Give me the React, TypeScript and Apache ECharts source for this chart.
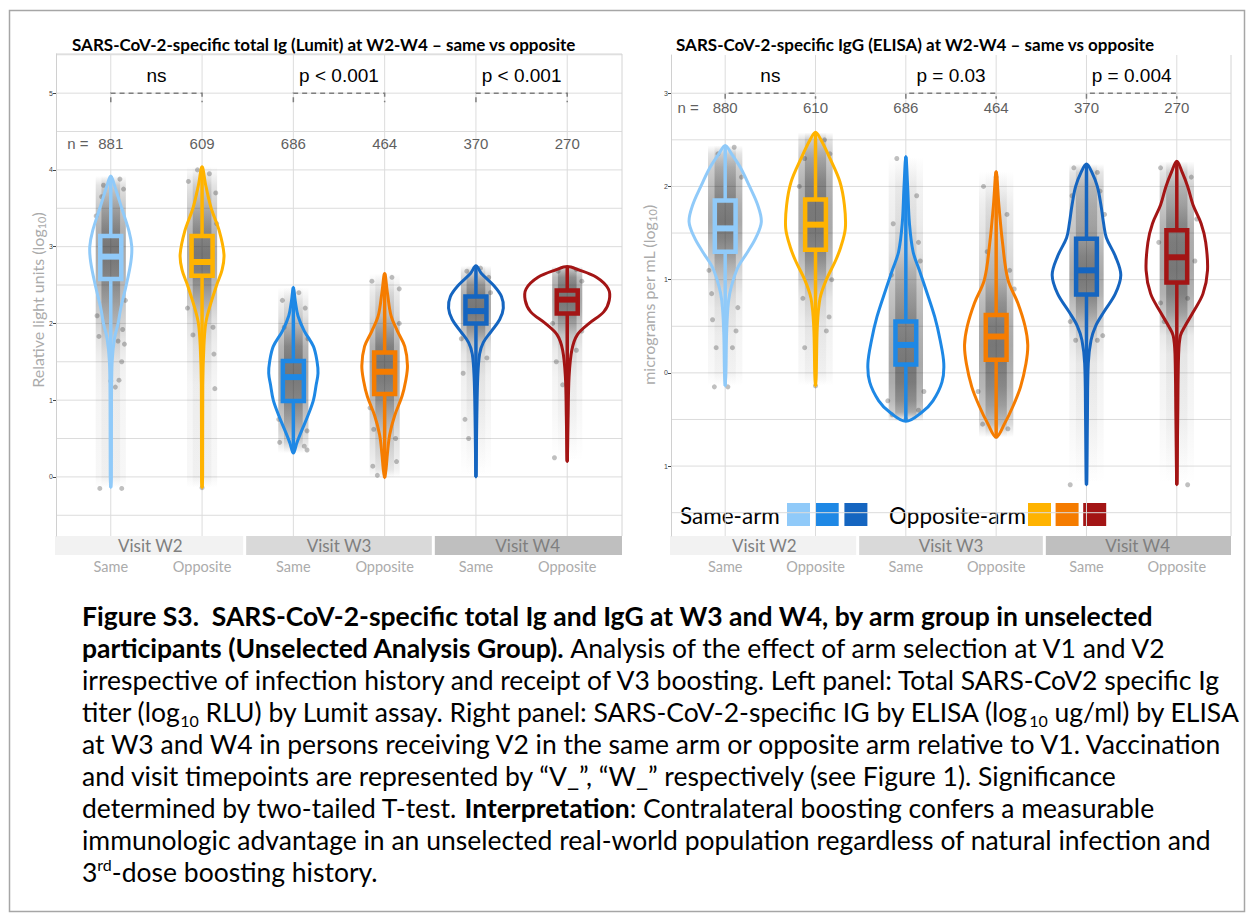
import React, { useEffect, useRef } from "react";
import * as echarts from "echarts";

// ---------- data ----------
const positions = [1, 2, 3, 4, 5, 6];
const armLabels = ["Same", "Opposite", "Same", "Opposite", "Same", "Opposite"];
const visitLabels = ["Visit W2", "Visit W3", "Visit W4"];
const groupColors = ["#90CAF9", "#FFB300", "#1E88E5", "#F57C00", "#1565C0", "#A31515"];
const sameColors = ["#90CAF9", "#1E88E5", "#1565C0"];
const oppColors = ["#FFB300", "#F57C00", "#A31515"];

// violin profiles: [log10 value, half width in category units], top -> bottom
const lumitViolins = [
  [[3.92, 0], [3.8, 0.04], [3.5, 0.12], [3.2, 0.2], [3.0, 0.23], [2.8, 0.22], [2.5, 0.17], [2.2, 0.11], [2.0, 0.08], [1.8, 0.04], [1.5, 0.015], [1.0, 0.008], [0, 0.006], [-0.14, 0]],
  [[4.04, 0], [3.8, 0.04], [3.5, 0.1], [3.2, 0.19], [2.9, 0.24], [2.7, 0.22], [2.5, 0.16], [2.2, 0.08], [2.0, 0.04], [1.7, 0.02], [1.2, 0.008], [0, 0.006], [-0.14, 0]],
  [[2.47, 0], [2.3, 0.02], [2.1, 0.05], [1.9, 0.12], [1.7, 0.22], [1.5, 0.26], [1.35, 0.27], [1.2, 0.25], [1.0, 0.22], [0.8, 0.16], [0.6, 0.09], [0.45, 0.04], [0.31, 0]],
  [[2.65, 0], [2.4, 0.03], [2.1, 0.07], [1.9, 0.14], [1.7, 0.22], [1.45, 0.25], [1.25, 0.23], [1.05, 0.19], [0.8, 0.11], [0.55, 0.055], [0.3, 0.03], [0.1, 0.015], [-0.01, 0]],
  [[2.75, 0], [2.65, 0.06], [2.5, 0.19], [2.35, 0.28], [2.2, 0.3], [2.05, 0.26], [1.9, 0.17], [1.75, 0.08], [1.6, 0.04], [1.3, 0.02], [0.8, 0.01], [0, 0]],
  [[2.74, 0], [2.7, 0.12], [2.6, 0.32], [2.45, 0.45], [2.3, 0.46], [2.15, 0.4], [2.0, 0.24], [1.85, 0.11], [1.65, 0.05], [1.3, 0.02], [0.8, 0.01], [0.2, 0]],
];
const elisaViolins = [
  [[2.44, 0], [2.35, 0.07], [2.2, 0.17], [2.0, 0.27], [1.8, 0.36], [1.62, 0.4], [1.45, 0.34], [1.3, 0.25], [1.15, 0.15], [1.0, 0.09], [0.85, 0.05], [0.7, 0.03], [0.4, 0.015], [0, 0.008], [-0.14, 0]],
  [[2.58, 0], [2.5, 0.06], [2.3, 0.16], [2.05, 0.27], [1.8, 0.32], [1.55, 0.33], [1.35, 0.28], [1.2, 0.22], [1.0, 0.12], [0.8, 0.05], [0.5, 0.02], [0, 0.008], [-0.14, 0]],
  [[2.32, 0], [2.0, 0.02], [1.6, 0.04], [1.3, 0.08], [1.1, 0.15], [0.9, 0.22], [0.6, 0.32], [0.35, 0.38], [0.1, 0.42], [-0.1, 0.4], [-0.3, 0.3], [-0.42, 0.18], [-0.52, 0]],
  [[2.16, 0], [1.8, 0.03], [1.4, 0.07], [1.0, 0.13], [0.75, 0.24], [0.5, 0.32], [0.3, 0.35], [0.1, 0.33], [-0.15, 0.27], [-0.35, 0.19], [-0.55, 0.09], [-0.69, 0]],
  [[2.24, 0], [2.15, 0.06], [2.0, 0.12], [1.8, 0.16], [1.6, 0.19], [1.45, 0.22], [1.25, 0.32], [1.05, 0.38], [0.85, 0.32], [0.65, 0.19], [0.5, 0.1], [0.35, 0.05], [0.1, 0.02], [-0.5, 0.01], [-1.2, 0]],
  [[2.27, 0], [2.15, 0.06], [2.0, 0.12], [1.8, 0.18], [1.6, 0.27], [1.4, 0.32], [1.1, 0.34], [0.85, 0.29], [0.65, 0.18], [0.5, 0.09], [0.4, 0.04], [0.2, 0.02], [-0.5, 0.01], [-1.2, 0]],
];

// boxes: [q1, median, q3]
const lumitBoxes = [[2.58, 2.87, 3.14], [2.62, 2.8, 3.14], [0.99, 1.3, 1.51], [1.08, 1.37, 1.62], [2.0, 2.16, 2.35], [2.13, 2.31, 2.43]];
const elisaBoxes = [[1.3, 1.55, 1.85], [1.32, 1.59, 1.86], [0.09, 0.3, 0.55], [0.14, 0.39, 0.62], [0.84, 1.1, 1.44], [0.97, 1.24, 1.53]];

// sparse jittered points: [x offset, value]
const lumitPoints = [
  [[-0.12, -0.15], [0.12, -0.15], [0.05, 1.17], [0.09, 1.26], [0.0, 1.25], [0.12, 1.5], [-0.13, 1.83], [0.13, 1.92], [0.15, 1.73], [0.08, 1.77], [-0.08, 3.8], [0.1, 3.88], [0.14, 3.75], [-0.1, 3.65], [-0.15, 2.1], [0.16, 2.3], [-0.16, 3.4]],
  [[0.0, -0.14], [0.13, 1.6], [0.14, 1.15], [-0.1, 1.85], [0.12, 1.95], [-0.05, 4.0], [0.08, 3.95], [-0.15, 3.85], [0.15, 3.7], [-0.16, 2.2], [0.16, 3.3]],
  [[-0.15, 0.45], [0.12, 0.4], [0.15, 0.35], [-0.1, 1.95], [0.13, 2.2], [-0.12, 2.3], [0.06, 2.4], [0.15, 0.6], [-0.16, 0.75], [0.16, 1.8]],
  [[-0.13, 0.14], [0.13, 0.2], [-0.08, 0.02], [0.12, 0.5], [-0.12, 0.62], [-0.14, 2.55], [0.16, 2.45], [0.08, 2.6], [-0.16, 0.9], [0.16, 2.0]],
  [[-0.12, 0.75], [-0.08, 0.5], [-0.14, 1.35], [0.12, 1.55], [0.05, 2.72], [-0.1, 2.68], [0.14, 2.6], [-0.16, 1.8], [0.16, 2.4]],
  [[-0.12, 1.5], [0.1, 1.65], [0.16, 1.9], [-0.05, 1.2], [-0.14, 0.25], [0.1, 2.7], [-0.1, 2.68], [-0.16, 2.0], [0.16, 2.55]],
];
const elisaPoints = [
  [[-0.12, -0.15], [0.03, -0.15], [-0.1, 0.27], [0.08, 0.27], [0.12, 0.45], [-0.14, 0.57], [0.0, 0.45], [0.14, 0.7], [-0.15, 0.85], [0.1, 2.42], [-0.08, 2.35], [-0.18, 1.1], [0.18, 2.1]],
  [[0.0, -0.14], [-0.12, 0.27], [0.12, 0.45], [0.15, 0.6], [-0.14, 0.8], [0.1, 2.5], [0.16, 2.35], [-0.12, 2.3], [0.18, 1.0], [-0.18, 2.0]],
  [[-0.1, 2.3], [0.12, 1.9], [-0.14, 1.6], [0.14, 1.4], [0.16, 1.2], [-0.16, 1.05], [-0.15, -0.45], [0.14, -0.4], [0.0, -0.5], [-0.2, -0.3], [0.2, -0.2]],
  [[-0.14, 2.0], [0.12, 1.7], [-0.1, 1.3], [0.15, 1.1], [0.0, 2.1], [-0.15, -0.55], [0.13, -0.6], [0.0, -0.68], [-0.2, -0.2], [0.2, 0.9]],
  [[-0.14, 2.2], [0.12, 2.15], [-0.16, 1.9], [0.15, 1.95], [-0.18, 0.55], [0.18, 0.4], [-0.12, 0.35], [0.12, 0.35], [-0.18, -1.2], [0.2, 1.7]],
  [[-0.18, 2.2], [0.16, 2.1], [-0.2, 1.4], [0.22, 1.65], [-0.18, 0.75], [-0.14, 0.55], [0.12, 0.8], [0.12, -1.2], [0.2, 1.2]],
];

const lumitN = ["881", "609", "686", "464", "370", "270"];
const elisaN = ["880", "610", "686", "464", "370", "270"];
const lumitP = ["ns", "p < 0.001", "p < 0.001"];
const elisaP = ["ns", "p = 0.03", "p = 0.004"];

const lumitGridY = [-0.5, 0, 0.5, 1, 1.5, 2, 2.5, 3, 3.5, 4, 4.5, 5, 5.5];
const elisaGridY = [-1.5, -1, -0.5, 0, 0.5, 1, 1.5, 2, 2.5, 3];
const lumitTicks = [0, 1, 2, 3, 4, 5];
const lumitTickLabels = ["0", "1", "2", "3", "4", "5"];
const elisaTicks = [-1, 0, 1, 2, 3];
const elisaTickLabels = ["1", "0", "1", "2", "3"];

const titles = [
  "SARS-CoV-2-specific total Ig (Lumit) at W2-W4 \u2013 same vs opposite",
  "SARS-CoV-2-specific IgG (ELISA) at W2-W4 \u2013 same vs opposite",
];

const captionLines = [
  "{b|Figure S3.  SARS-CoV-2-specific total Ig and IgG at W3 and W4, by arm group in unselected}",
  "{b|participants (Unselected Analysis Group).}{r| Analysis of the effect of arm selection at V1 and V2}",
  "{r|irrespective of infection history and receipt of V3 boosting. Left panel: Total SARS-CoV2 specific Ig}",
  "{r|titer (log}{s|10}{r| RLU) by Lumit assay. Right panel: SARS-CoV-2-specific IG by ELISA (log}{s|10}{r| ug/ml) by ELISA}",
  "{r|at W3 and W4 in persons receiving V2 in the same arm or opposite arm relative to V1. Vaccination}",
  "{r|and visit timepoints are represented by \u201cV_\u201d, \u201cW_\u201d respectively (see Figure 1). Significance}",
  "{r|determined by two-tailed T-test. }{b|Interpretation}{r|: Contralateral boosting confers a measurable}",
  "{r|immunologic advantage in an unselected real-world population regardless of natural infection and}",
  "{r|3}{u|rd}{r|-dose boosting history.}",
];

// ---------- layout ----------
const PLOT_FONT = "'Liberation Sans', Arial, sans-serif";
const CAL_FONT = "Lato, 'Noto Sans', sans-serif";
const X_MIN = 0.4;
const X_MAX = 6.6;
const GRIDS = [
  { left: 56, top: 54, width: 566, height: 482 },
  { left: 671, top: 55, width: 560, height: 481 },
];

type Panel = {
  violins: number[][][];
  boxes: number[][];
  points: number[][][];
  n: string[];
  p: string[];
  gridY: number[];
  range: number[];
  nY: number;
  pY: number;
  bracketY: number;
  bracketDrop: number;
  nLabelX: number;
  jitter: number;
};

const panels: Panel[] = [
  { violins: lumitViolins, boxes: lumitBoxes, points: lumitPoints, n: lumitN, p: lumitP, gridY: lumitGridY, range: [-0.77, 5.51], nY: 4.35, pY: 5.23, bracketY: 5.0, bracketDrop: 0.12, nLabelX: 0.64, jitter: 0.165 },
  { violins: elisaViolins, boxes: elisaBoxes, points: elisaPoints, n: elisaN, p: elisaP, gridY: elisaGridY, range: [-1.75, 3.41], nY: 2.85, pY: 3.19, bracketY: 3.0, bracketDrop: 0.06, nLabelX: 0.59, jitter: 0.19 },
];

function line(a: number[], b: number[], style: any) {
  return { type: "line", shape: { x1: a[0], y1: a[1], x2: b[0], y2: b[1] }, style };
}

function textEl(x: number, y: number, text: string, style: any) {
  return {
    type: "text",
    x,
    y,
    style: { text, align: "center", verticalAlign: "middle", textAlign: "center", textVerticalAlign: "middle", ...style },
  };
}

function panelSeries(gi: number, d: Panel) {
  const base = { xAxisIndex: gi, yAxisIndex: gi, coordinateSystem: "cartesian2d", silent: true, animation: false };
  const [ymin, ymax] = d.range;
  const series: any[] = [];

  // grid lines
  series.push({
    ...base,
    type: "custom",
    z: 0,
    clip: false,
    data: [[1, 1]],
    renderItem: (_p: any, api: any) => {
      const children: any[] = [];
      d.gridY.forEach((v) => {
        children.push(line(api.coord([X_MIN, v]), api.coord([X_MAX, v]), { stroke: "#dcdcdc", lineWidth: 1 }));
      });
      positions.forEach((x) => {
        children.push(line(api.coord([x, ymin]), api.coord([x, ymax]), { stroke: "#dcdcdc", lineWidth: 1 }));
      });
      children.push(line(api.coord([X_MAX, ymin]), api.coord([X_MAX, ymax]), { stroke: "#d4d4d4", lineWidth: 1 }));
      return { type: "group", children };
    },
  });

  series.push({
    ...base,
    type: "custom",
    z: 1,
    data: positions.map((x, i) => [x, d.boxes[i][1]]),
    renderItem: (params: any, api: any) => {
      const i = params.dataIndex;
      const prof = d.violins[i];
      const xc = positions[i];
      const top = prof[0][0];
      const bot = prof[prof.length - 1][0];
      const wmax = Math.max(...prof.map((q) => q[1]));
      const layer = (half: number, amax: number) => {
        const p1 = api.coord([xc - half, top]);
        const p2 = api.coord([xc + half, bot]);
        const stops = prof.map(([y, w]) => ({
          offset: (top - y) / (top - bot),
          color: `rgba(30,30,30,${(amax * Math.pow(w / wmax, 0.65)).toFixed(3)})`,
        }));
        return {
          type: "rect",
          shape: { x: p1[0], y: p1[1], width: p2[0] - p1[0], height: p2[1] - p1[1] },
          style: { fill: new echarts.graphic.LinearGradient(0, 0, 0, 1, stops) },
        };
      };
      return { type: "group", children: [layer(d.jitter, 0.38), layer(d.jitter * 0.62, 0.36)] };
    },
  });

  // sparse points
  series.push({
    ...base,
    type: "scatter",
    z: 2,
    symbolSize: 5,
    itemStyle: { color: "rgba(60,60,60,0.4)" },
    data: d.points.flatMap((g, i) => g.map(([dx, y]) => [positions[i] + dx, y])),
  });

  // violins
  series.push({
    ...base,
    type: "custom",
    z: 3,
    data: positions.map((x, i) => [x, d.boxes[i][1]]),
    renderItem: (params: any, api: any) => {
      const i = params.dataIndex;
      const prof = d.violins[i];
      const xc = positions[i];
      const left = prof.map(([y, w]) => api.coord([xc - w, y]));
      const right = prof.slice(1, -1).reverse().map(([y, w]) => api.coord([xc + w, y]));
      return {
        type: "polygon",
        shape: { points: left.concat(right), smooth: 0.35 },
        style: { fill: "none", stroke: groupColors[i], lineWidth: 3, lineJoin: "round" },
      };
    },
  });

  // boxes & whiskers
  series.push({
    ...base,
    type: "custom",
    z: 4,
    data: positions.map((x, i) => [x, d.boxes[i][1]]),
    renderItem: (params: any, api: any) => {
      const i = params.dataIndex;
      const [q1, med, q3] = d.boxes[i];
      const prof = d.violins[i];
      const top = prof[0][0];
      const bot = prof[prof.length - 1][0];
      const xc = positions[i];
      const bw = 0.115;
      const c = groupColors[i];
      const a = api.coord([xc - bw, q3]);
      const b = api.coord([xc + bw, q1]);
      return {
        type: "group",
        children: [
          line(api.coord([xc, top]), api.coord([xc, q3]), { stroke: c, lineWidth: 3.5 }),
          line(api.coord([xc, q1]), api.coord([xc, bot]), { stroke: c, lineWidth: 3.5 }),
          { type: "rect", shape: { x: a[0], y: a[1], width: b[0] - a[0], height: b[1] - a[1] }, style: { fill: "none", stroke: c, lineWidth: 4.5 } },
          line(api.coord([xc - bw, med]), api.coord([xc + bw, med]), { stroke: c, lineWidth: 6 }),
        ],
      };
    },
  });

  // n labels and significance brackets
  series.push({
    ...base,
    type: "custom",
    z: 5,
    clip: false,
    data: [[1, 1]],
    renderItem: (_p: any, api: any) => {
      const children: any[] = [];
      const f = { fill: "#5f5f5f", fontSize: 15, fontFamily: PLOT_FONT };
      const c0 = api.coord([d.nLabelX, d.nY]);
      children.push(textEl(c0[0], c0[1], "n =", f));
      d.n.forEach((t, i) => {
        const c = api.coord([positions[i], d.nY]);
        children.push(textEl(c[0], c[1], t, f));
      });
      d.p.forEach((t, k) => {
        const x1 = positions[2 * k];
        const x2 = positions[2 * k + 1];
        const pa = api.coord([x1, d.bracketY - d.bracketDrop]);
        const pb = api.coord([x1, d.bracketY]);
        const pc = api.coord([x2, d.bracketY]);
        const pd = api.coord([x2, d.bracketY - d.bracketDrop]);
        children.push({
          type: "polyline",
          shape: { points: [pa, pb, pc, pd] },
          style: { stroke: "#7f7f7f", lineWidth: 1.5, lineDash: [5, 4], fill: "none" },
        });
        const pt = api.coord([(x1 + x2) / 2, d.pY]);
        children.push(textEl(pt[0], pt[1], t, { fill: "#000", fontSize: 19, fontFamily: PLOT_FONT }));
      });
      return { type: "group", children };
    },
  });

  return series;
}

function buildGraphics() {
  const g: any[] = [];
  // outer frame
  g.push({ type: "rect", shape: { x: 9.5, y: 10.5, width: 1235, height: 901 }, style: { fill: "none", stroke: "#a6a6a6", lineWidth: 1.5 }, z: 0 });
  // left panel top border
  g.push({ type: "line", shape: { x1: GRIDS[0].left, y1: GRIDS[0].top, x2: GRIDS[0].left + GRIDS[0].width, y2: GRIDS[0].top }, style: { stroke: "#d4d4d4", lineWidth: 1 } });
  // titles
  const tStyle = { font: `bold 17px ${CAL_FONT}`, fill: "#000", align: "left", verticalAlign: "middle", textAlign: "left", textVerticalAlign: "middle" };
  g.push({ type: "text", x: 72, y: 44, style: { text: titles[0], ...tStyle } });
  g.push({ type: "text", x: 676, y: 44, style: { text: titles[1], ...tStyle } });
  // strips
  GRIDS.forEach((gr) => {
    const third = gr.width / 3;
    const fills = ["#f2f2f2", "#d9d9d9", "#bfbfbf"];
    visitLabels.forEach((lab, k) => {
      const x0 = gr.left + k * third + (k > 0 ? 1.5 : -1);
      const w = third - (k > 0 ? 1.5 : -1) - (k < 2 ? 1.5 : 0);
      g.push({ type: "rect", shape: { x: x0, y: 536, width: w, height: 19 }, style: { fill: fills[k] } });
      g.push({
        type: "text",
        x: gr.left + (k + 0.5) * third,
        y: 545.5,
        style: { text: lab, font: `17px ${CAL_FONT}`, fill: "#7f7f7f", align: "center", verticalAlign: "middle", textAlign: "center", textVerticalAlign: "middle" },
      });
    });
  });
  // y axis titles
  const axRich = {
    a: { fontSize: 16, fontFamily: CAL_FONT, fill: "#ababab", color: "#ababab", lineHeight: 20, verticalAlign: "middle" },
    s: { fontSize: 11, fontFamily: CAL_FONT, fill: "#ababab", color: "#ababab", lineHeight: 11, verticalAlign: "bottom" },
  };
  g.push({ type: "text", x: 37, y: 300, rotation: Math.PI / 2, style: { text: "{a|Relative light units (log}{s|10}{a|)}", rich: axRich, align: "center", verticalAlign: "middle", textAlign: "center", textVerticalAlign: "middle" } });
  g.push({ type: "text", x: 648, y: 295, rotation: Math.PI / 2, style: { text: "{a|micrograms per mL (log}{s|10}{a|)}", rich: axRich, align: "center", verticalAlign: "middle", textAlign: "center", textVerticalAlign: "middle" } });
  // legend
  const legStyle = { font: `22.5px ${CAL_FONT}`, fill: "#000", align: "left", verticalAlign: "middle", textAlign: "left", textVerticalAlign: "middle" };
  g.push({ type: "text", x: 680, y: 515, style: { text: "Same-arm", ...legStyle } });
  sameColors.forEach((c, k) => g.push({ type: "rect", shape: { x: 787 + k * 28.7, y: 503, width: 23, height: 23 }, style: { fill: c } }));
  g.push({ type: "text", x: 889, y: 515, style: { text: "Opposite-arm", ...legStyle } });
  oppColors.forEach((c, k) => g.push({ type: "rect", shape: { x: 1028 + k * 27.6, y: 503, width: 23, height: 23 }, style: { fill: c } }));
  // caption
  const capRich = {
    r: { fontSize: 26.5, fontFamily: CAL_FONT, fill: "#000", color: "#000", lineHeight: 32, verticalAlign: "middle" },
    b: { fontSize: 26.5, fontFamily: CAL_FONT, fontWeight: "bold", fill: "#000", color: "#000", lineHeight: 32, verticalAlign: "middle" },
    s: { fontSize: 16, fontFamily: CAL_FONT, fill: "#000", color: "#000", lineHeight: 16, verticalAlign: "bottom" },
    u: { fontSize: 16, fontFamily: CAL_FONT, fill: "#000", color: "#000", lineHeight: 16, verticalAlign: "top" },
  };
  captionLines.forEach((t, k) => {
    g.push({ type: "text", x: 82, y: 616 + 32 * k, style: { text: t, rich: capRich, align: "left", verticalAlign: "middle", textAlign: "left", textVerticalAlign: "middle" } });
  });
  return g;
}

function buildOption() {
  const ticks = [lumitTicks, elisaTicks];
  const tickLabels = [lumitTickLabels, elisaTickLabels];
  return {
    animation: false,
    backgroundColor: "#ffffff",
    grid: GRIDS.map((g) => ({ ...g, containLabel: false })),
    xAxis: GRIDS.map((_g, gi) => ({
      type: "value",
      gridIndex: gi,
      min: X_MIN,
      max: X_MAX,
      axisLine: { show: false },
      axisTick: { show: false },
      splitLine: { show: false },
      axisLabel: {
        customValues: positions,
        formatter: (v: number) => armLabels[Math.round(v) - 1] || "",
        margin: 23,
        color: "#ababab",
        fontSize: 14.5,
        fontFamily: CAL_FONT,
      },
    })),
    yAxis: panels.map((p, gi) => ({
      type: "value",
      gridIndex: gi,
      min: p.range[0],
      max: p.range[1],
      axisLine: { show: true, lineStyle: { color: "#d0d0d0", width: 1 } },
      axisTick: { show: true, customValues: ticks[gi], length: 3, lineStyle: { color: "#444", width: 1 } },
      splitLine: { show: false },
      axisLabel: {
        customValues: ticks[gi],
        formatter: (v: number) => tickLabels[gi][ticks[gi].indexOf(Math.round(v))] ?? "",
        fontSize: 7,
        color: "#444",
        margin: 3,
        fontFamily: PLOT_FONT,
      },
    })),
    series: [...panelSeries(0, panels[0]), ...panelSeries(1, panels[1])],
    graphic: buildGraphics(),
  };
}

export default function App() {
  const ref = useRef<HTMLDivElement>(null);
  useEffect(() => {
    const chart = echarts.init(ref.current!, null, { renderer: "svg" });
    chart.setOption(buildOption() as any);
    return () => chart.dispose();
  }, []);
  return (
    <div
      ref={ref}
      style={{ position: "fixed", left: 0, top: 0, width: 1253, height: 923, background: "#fff" }}
    />
  );
}
